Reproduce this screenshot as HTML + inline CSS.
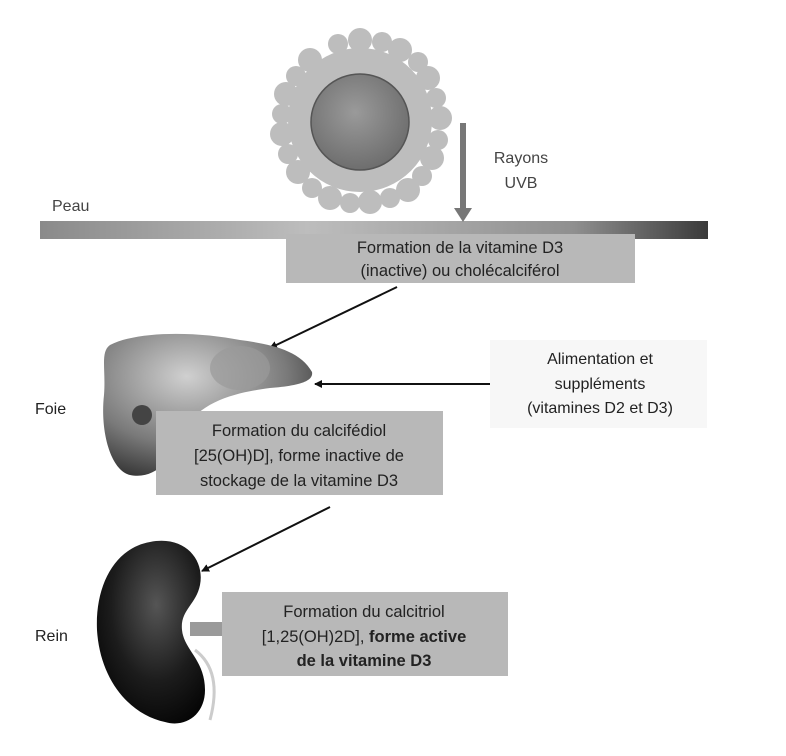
<!DOCTYPE html>
<html><head><meta charset="utf-8"><style>
html,body{margin:0;padding:0;background:#fff;}
svg{display:block;font-family:"Liberation Sans",sans-serif;}
</style></head><body>
<svg width="786" height="756" viewBox="0 0 786 756" xmlns="http://www.w3.org/2000/svg">
<defs>
<radialGradient id="sun" cx="0.45" cy="0.4" r="0.6"><stop offset="0" stop-color="#9a9a9a"/><stop offset="1" stop-color="#6e6e6e"/></radialGradient>
<linearGradient id="skin" x1="0" x2="1"><stop offset="0" stop-color="#8a8a8a"/><stop offset="0.4" stop-color="#bdbdbd"/><stop offset="0.8" stop-color="#8f8f8f"/><stop offset="1" stop-color="#3a3a3a"/></linearGradient>
<radialGradient id="liver" cx="0.4" cy="0.3" r="0.8"><stop offset="0" stop-color="#d0d0d0"/><stop offset="0.6" stop-color="#7a7a7a"/><stop offset="1" stop-color="#2a2a2a"/></radialGradient>
<radialGradient id="kid" cx="0.55" cy="0.35" r="0.7"><stop offset="0" stop-color="#555"/><stop offset="0.6" stop-color="#1c1c1c"/><stop offset="1" stop-color="#050505"/></radialGradient>
<marker id="ah" markerWidth="8" markerHeight="8" refX="7" refY="4" orient="auto" markerUnits="userSpaceOnUse"><path d="M0,0 L8,4 L0,8 z" fill="#111"/></marker>
</defs>
<!-- sun flames -->
<g fill="#bdbdbd">
<circle cx="360" cy="120" r="72"/>
<g>
<circle cx="360" cy="40" r="12"/><circle cx="400" cy="50" r="12"/><circle cx="428" cy="78" r="12"/><circle cx="440" cy="118" r="12"/><circle cx="432" cy="158" r="12"/><circle cx="408" cy="190" r="12"/><circle cx="370" cy="202" r="12"/><circle cx="330" cy="198" r="12"/><circle cx="298" cy="172" r="12"/><circle cx="282" cy="134" r="12"/><circle cx="286" cy="94" r="12"/><circle cx="310" cy="60" r="12"/><circle cx="338" cy="44" r="10"/><circle cx="382" cy="42" r="10"/><circle cx="418" cy="62" r="10"/><circle cx="436" cy="98" r="10"/><circle cx="438" cy="140" r="10"/><circle cx="422" cy="176" r="10"/><circle cx="390" cy="198" r="10"/><circle cx="350" cy="203" r="10"/><circle cx="312" cy="188" r="10"/><circle cx="288" cy="154" r="10"/><circle cx="282" cy="114" r="10"/><circle cx="296" cy="76" r="10"/>
</g></g>
<ellipse cx="360" cy="122" rx="49" ry="48" fill="url(#sun)" stroke="#555" stroke-width="1.5"/>
<!-- skin -->
<rect x="40" y="221" width="668" height="18" fill="url(#skin)"/>
<text x="52" y="211" font-size="16" fill="#444">Peau</text>
<!-- UVB arrow -->
<rect x="460" y="123" width="6" height="88" fill="#777"/>
<path d="M454,208 L472,208 L463,222 z" fill="#777"/>
<text x="521" y="163" font-size="16" fill="#444" text-anchor="middle">Rayons</text>
<text x="521" y="188" font-size="16" fill="#444" text-anchor="middle">UVB</text>
<!-- box1 -->
<rect x="286" y="234" width="349" height="49" fill="#b8b8b8"/>
<g font-size="16.5" fill="#222" text-anchor="middle">
<text x="460" y="253">Formation de la vitamine D3</text>
<text x="460" y="276">(inactive) ou cholécalciférol</text>
</g>
<line x1="397" y1="287" x2="270" y2="348" stroke="#111" stroke-width="2" marker-end="url(#ah)"/>
<!-- liver -->
<path d="M110,345 C140,330 200,332 240,340 C270,344 300,350 312,372 C314,382 296,386 270,388 C240,392 200,400 185,430 C172,460 155,480 130,475 C110,470 100,430 104,395 C106,370 100,352 110,345 z" fill="url(#liver)"/>
<ellipse cx="240" cy="368" rx="30" ry="22" fill="#9a9a9a" opacity="0.7"/>
<ellipse cx="142" cy="415" rx="10" ry="10" fill="#444"/>
<text x="35" y="414" font-size="16" fill="#222">Foie</text>
<!-- food box -->
<rect x="490" y="340" width="217" height="88" fill="#f7f7f7"/>
<g font-size="16" fill="#222" text-anchor="middle">
<text x="600" y="364">Alimentation et</text>
<text x="600" y="389">suppléments</text>
<text x="600" y="413">(vitamines D2 et D3)</text>
</g>
<line x1="490" y1="384" x2="315" y2="384" stroke="#111" stroke-width="2" marker-end="url(#ah)"/>
<!-- box2 -->
<rect x="156" y="411" width="287" height="84" fill="#b8b8b8"/>
<g font-size="16.5" fill="#222" text-anchor="middle">
<text x="299" y="436">Formation du calcifédiol</text>
<text x="299" y="461">[25(OH)D], forme inactive de</text>
<text x="299" y="486">stockage de la vitamine D3</text>
</g>
<line x1="330" y1="507" x2="202" y2="571" stroke="#111" stroke-width="2" marker-end="url(#ah)"/>
<!-- kidney -->
<path d="M150,542 C185,535 205,560 200,585 C196,605 180,610 182,630 C184,650 205,660 205,690 C205,715 185,728 165,722 C130,715 100,680 97,630 C95,585 115,548 150,542 z" fill="url(#kid)"/>
<rect x="190" y="622" width="34" height="14" fill="#9a9a9a"/>
<path d="M195,650 C215,665 218,690 210,720" stroke="#ccc" stroke-width="3" fill="none"/>
<text x="35" y="641" font-size="16" fill="#222">Rein</text>
<!-- box3 -->
<rect x="222" y="592" width="286" height="84" fill="#b8b8b8"/>
<g font-size="16.5" fill="#222" text-anchor="middle">
<text x="364" y="617">Formation du calcitriol</text>
<text x="364" y="642">[1,25(OH)2D], <tspan font-weight="bold">forme active</tspan></text>
<text x="364" y="666" font-weight="bold">de la vitamine D3</text>
</g>
</svg>
</body></html>
